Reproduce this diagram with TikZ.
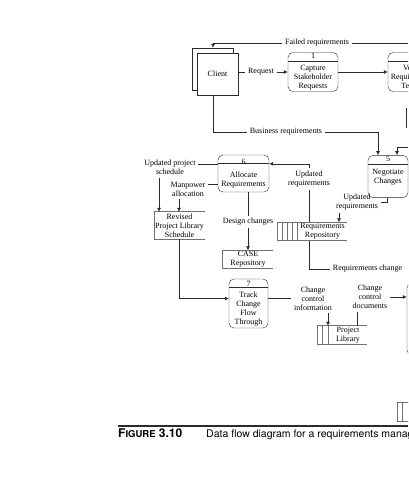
\documentclass[tikz,border=0pt]{standalone}
\usepackage{fontspec}
\setmainfont{Liberation Serif}
\newfontfamily\capfont{TeX Gyre Heros}
\usetikzlibrary{arrows.meta,positioning,calc,shadows}
\definecolor{Ink}{HTML}{2B2B2B}
\definecolor{Shelf}{HTML}{707070}
\newcommand{\lbl}{\fontsize{8}{9}\selectfont}
\tikzset{
 proc/.style={draw=Ink,rounded corners=5pt,minimum width=50pt,minimum height=38pt,align=center,font=\lbl,inner sep=1pt,
  path picture={\draw[Ink] ([yshift=-8.5pt]path picture bounding box.north west) -- ([yshift=-8.5pt]path picture bounding box.north east);}},
 bare/.style={draw=Ink,rounded corners=5pt},
 ent/.style={draw=Ink,fill=white,minimum width=41pt,minimum height=42pt,font=\lbl},
 store/.style={minimum height=18pt,align=center,font=\lbl,inner sep=1pt},
 shelf/.style={draw=Shelf,line width=.8pt},
 lab/.style={align=center,font=\lbl,inner sep=2.5pt},
 flow/.style={draw=Ink,semithick},
 arr/.style={flow,-{Latex[length=4pt,width=4pt]}}
}
\begin{document}
\begin{tikzpicture}[x=1pt,y=-1pt]
\useasboundingbox (0,0) rectangle (408,480);
\clip (0,0) rectangle (408,480);
% entity and processes
\node[ent,copy shadow={shadow xshift=-5pt,shadow yshift=5pt}] (client) at (217.5,74) {Client};
\node[proc] (p1) at (313,72) {1\\[3pt]Capture\\Stakeholder\\Requests};
\node[proc] (p2) at (413,72) {2\\[3pt]Verify\\Requirements\\Testing};
\node[proc,minimum width=40pt,minimum height=41pt] (p5) at (388,176.5) {5\\[4pt]Negotiate\\Changes\\[4pt]};
\node[proc,minimum width=51pt,minimum height=37pt] (p6) at (243.5,173.5) {6\\[4pt]Allocate\\Requirements};
\node[proc,minimum width=39pt,minimum height=49pt] (p7) at (248.5,303.5) {7\\[2pt]Track\\Change\\Flow\\Through};
\node[bare,minimum width=66pt,minimum height=72pt] (p8) at (440,319) {};
% data stores
\node[store,minimum width=49pt,minimum height=27pt] (rev) at (179.5,225.5) {Revised\\Project Library\\Schedule};
\draw[shelf] (rev.north east) -- (rev.north west) -- (rev.south west) -- (rev.south east);
\node[store,minimum width=50pt] (case) at (248,259.5) {CASE\\Repository};
\draw[shelf] (case.north east) -- (case.north west) -- (case.south west) -- (case.south east);
\node[store,minimum width=49pt,minimum height=17pt] (rr) at (322.5,231.5) {Requirements\\Repository};
\draw[shelf] (rr.north east) -- ([xshift=-20pt]rr.north west) -- ([xshift=-20pt]rr.south west) -- (rr.south east);
\foreach \d in {0,5,10,15} \draw[shelf] ([xshift=-\d pt]rr.north west) -- ([xshift=-\d pt]rr.south west);
\node[store,minimum width=38pt] (pl) at (348,335) {Project\\Library};
\draw[shelf] (pl.north east) -- ([xshift=-11pt]pl.north west) -- ([xshift=-11pt]pl.south west) -- (pl.south east);
\foreach \d in {0,6} \draw[shelf] ([xshift=-\d pt]pl.north west) -- ([xshift=-\d pt]pl.south west);
\node[store,minimum width=54pt] (ss) at (430,412) {};
\draw[shelf] (ss.north east) -- ([xshift=-5pt]ss.north west) -- ([xshift=-5pt]ss.south west) -- (ss.south east);
\draw[shelf] (ss.north west) -- (ss.south west);
% flow labels
\node[lab] (lfail) at (317,43) {Failed requirements};
\node[lab] (lreq) at (261,72) {Request};
\node[lab] (lbus) at (286,132) {Business requirements};
\node[lab] (lups) at (170,167.5) {Updated project\\schedule};
\node[lab] (lman) at (188,189) {Manpower\\allocation};
\node[lab] (lupd6) at (309,179) {Updated\\requirements};
\node[lab] (lupd5) at (357,202.5) {Updated\\requirements};
\node[lab] (ldes) at (248,222) {Design changes};
\node[lab] (lrc) at (367.5,269) {Requirements change};
\node[lab] (lcci) at (313,298.5) {Change\\control\\information};
\node[lab] (lccd) at (370,297) {Change\\control\\documents};
\coordinate (fr) at (408,43);
\coordinate (e5) at (408,147);
\coordinate (r1) at (406.5,108);
\coordinate (r2) at (406.5,128);
% flows
\draw[flow] (fr) -- (lfail);
\draw[arr] (lfail) -| ([xshift=-4.5pt,yshift=5pt]client.north);
\draw[flow] (client.east |- lreq) -- (lreq);
\draw[arr] (lreq) -- (lreq -| p1.west);
\draw[arr] (p1) -- (p2);
\draw[flow] ([xshift=-4.5pt]client.south) |- (lbus);
\draw[arr] (lbus) -| ([xshift=-10pt]p5.north);
\draw[arr] (e5) -| ([xshift=9pt]p5.north);
\draw[flow] (r1) -- (r2);
\draw[flow] ([xshift=-1pt]p5.south) |- (lupd5.east);
\draw[arr] ([xshift=-18pt]lupd5.south) -- ([xshift=-18pt]lupd5.south |- rr.north);
\draw[flow] (lupd6 |- rr.north) -- (lupd6);
\draw[arr] (lupd6) |- ([yshift=-9pt]p6.north east);
\draw[flow] ([yshift=-9pt]p6.north west) -- ([yshift=-9pt]p6.north west -| lups.east);
\draw[arr] ([xshift=-11pt]lups.south) -- ([xshift=-11pt]lups.south |- rev.north);
\draw[flow] ([yshift=-29pt]p6.north west) -- ([yshift=-29pt]p6.north west -| lman.east);
\draw[arr] ([xshift=-9pt]lman.south) -- ([xshift=-9pt]lman.south |- rev.north);
\draw[flow] ([xshift=4.5pt]p6.south) -- (ldes);
\draw[arr] (ldes) -- (ldes |- case.north);
\draw[arr] (rev.south) |- ([yshift=5pt]p7.west);
\draw[flow] ([yshift=5pt]p7.east) -- (lcci);
\draw[arr] ([xshift=15pt]lcci.south) -- ([xshift=15pt]lcci.south |- pl.north);
\draw[flow] ([xshift=-13pt]lccd.south) -- ([xshift=-13pt]lccd.south |- pl.north);
\draw[arr] (lccd) -- (lccd -| p8.west);
\draw[flow] (lupd6 |- rr.south) |- (lrc);
% caption
\coordinate (cl) at (118,426);
\coordinate (cr) at (408,426);
\draw[Ink,line width=1.2pt] (cl) -- (cr);
\node[anchor=base west,inner sep=0,font=\capfont\bfseries\fontsize{12}{13}\selectfont] (capnum) at (118,437)
 {F\fontsize{9.5}{10}\selectfont IGURE\fontsize{12}{13}\selectfont\ 3.10};
\node[anchor=base west,inner sep=0,font=\capfont\fontsize{10.5}{12}\selectfont] (captext) at (206,437)
 {Data flow diagram for a requirements management system};
\end{tikzpicture}
\end{document}
